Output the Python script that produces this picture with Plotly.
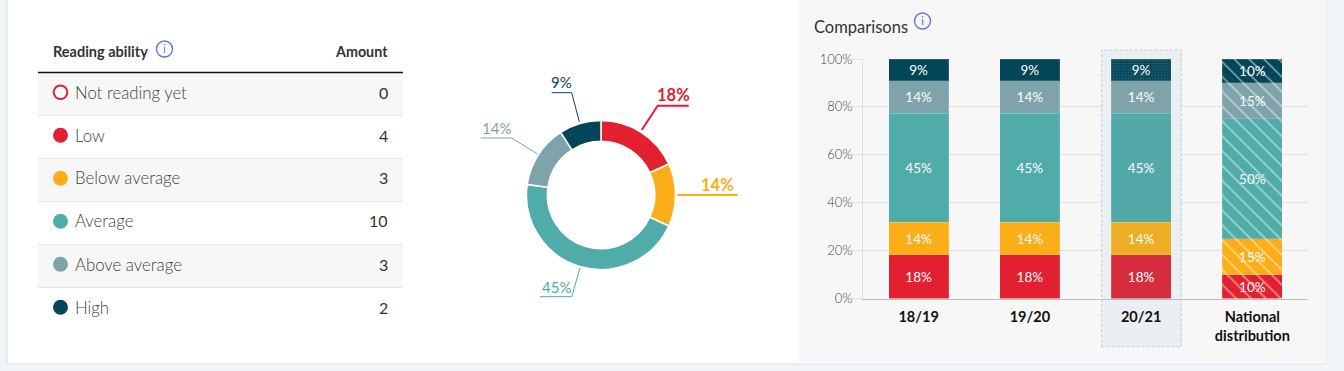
import plotly.graph_objects as go

W, H = 1344, 371
FONT = "Lato"

levels = ["Not reading yet", "Low", "Below average", "Average", "Above average", "High"]
amounts = [0, 4, 3, 10, 3, 2]
level_colors = ["#e2202f", "#e2202f", "#fbae17", "#4faca8", "#7fa3aa", "#03465a"]

pie_labels = ["Low", "Below average", "Average", "Above average", "High"]
pie_values = [4, 3, 10, 3, 2]
pie_colors = ["#e2202f", "#fbae17", "#4faca8", "#7fa3aa", "#03465a"]

years = ["18/19", "19/20", "20/21", "National<br>distribution"]
low = [18.2, 18.2, 18.2, 10]
below = [13.6, 13.6, 13.6, 15]
average = [45.5, 45.5, 45.5, 50]
above = [13.6, 13.6, 13.6, 15]
high = [9.1, 9.1, 9.1, 10]
low_txt = ["18%", "18%", "18%", "10%"]
below_txt = ["14%", "14%", "14%", "15%"]
average_txt = ["45%", "45%", "45%", "50%"]
above_txt = ["14%", "14%", "14%", "15%"]
high_txt = ["9%", "9%", "9%", "10%"]


def X(p):
    return p / W


def Y(p):
    return 1 - p / H


fig = go.Figure()

fig.add_trace(go.Pie(
    labels=pie_labels, values=pie_values, sort=False, direction="clockwise", rotation=0,
    hole=0.72, textinfo="none", showlegend=False, hoverinfo="label+percent",
    marker=dict(colors=pie_colors, line=dict(color="#ffffff", width=1.5)),
    domain=dict(x=[X(526.5), X(675.5)], y=[Y(269.5), Y(120.5)]),
))

series = [
    ("Low", low, low_txt, "#e2202f", "#d52d3d", ""),
    ("Below average", below, below_txt, "#fbae17", "#edae25", ""),
    ("Average", average, average_txt, "#4faca8", "#53a9a8", ""),
    ("Above average", above, above_txt, "#7fa3aa", "#80a2a9", ""),
    ("High", high, high_txt, "#03465a", "#0a485b", "."),
]
BAR_TEXT = dict(textposition="inside", insidetextanchor="middle", textangle=0, constraintext="none",
                insidetextfont=dict(family=FONT, size=13.5, color="#ffffff"), showlegend=False)
EDGE = dict(width=1, color="rgba(255,255,255,0.15)")
for name, vals, txt, col, muted, current_pat in series:
    # past years and the national distribution
    idx = [0, 1, 3]
    fig.add_trace(go.Bar(
        x=[years[i] for i in idx], y=[vals[i] for i in idx], text=[txt[i] for i in idx], name=name, **BAR_TEXT,
        marker=dict(color=col, line=EDGE,
                    pattern=dict(shape=["", "", "\\"], fgcolor="rgba(255,255,255,0.95)", size=10.5, solidity=0.16)),
    ))
    # the selected year
    fig.add_trace(go.Bar(
        x=[years[2]], y=[vals[2]], text=[txt[2]], name=name, **BAR_TEXT,
        marker=dict(color=muted, line=EDGE,
                    pattern=dict(shape=current_pat, fgcolor="rgba(110,190,190,0.45)", size=3, solidity=0.22)),
    ))

shapes = []
ann = []


def rect(x0, y0, x1, y1, fill, line=None, layer="below", width=1, dash=None):
    shapes.append(dict(type="rect", xref="paper", yref="paper", x0=X(x0), x1=X(x1), y0=Y(y1), y1=Y(y0),
                       fillcolor=fill, layer=layer,
                       line=dict(color=line or "rgba(0,0,0,0)", width=width if line else 0, dash=dash)))


def hline(x0, x1, y, color, width=1):
    shapes.append(dict(type="line", xref="paper", yref="paper", x0=X(x0), x1=X(x1), y0=Y(y), y1=Y(y),
                       layer="below", line=dict(color=color, width=width)))


def text(x, y, s, size, color, anchor="left", weight=None):
    f = dict(family=FONT, size=size, color=color)
    if weight:
        f["weight"] = weight
    ann.append(dict(xref="paper", yref="paper", x=X(x), y=Y(y), text=s, showarrow=False, xanchor=anchor,
                    yanchor="middle", font=f, borderpad=0, borderwidth=0))


def info(cx, cy):
    r = 8
    shapes.append(dict(type="circle", xref="paper", yref="paper", x0=X(cx - r), x1=X(cx + r), y0=Y(cy + r), y1=Y(cy - r),
                       fillcolor="rgba(0,0,0,0)", layer="above", line=dict(color="#5b78db", width=1.4)))
    text(cx, cy, "i", 12, "#5b78db", "center")


# card and panel
rect(7, -5, 1326, 364, "#ffffff", "#d6dee4")
rect(799, -5, 1326, 363.5, "#f7f7f7")

# table
text(53, 51.5, "<b>Reading ability</b>", 14.5, "#333333")
text(388, 51.5, "<b>Amount</b>", 14.3, "#333333", "right")
info(164.5, 49)
TOP, ROW = 72.5, 43
for i, (lab, amt, col) in enumerate(zip(levels, amounts, level_colors)):
    y0 = TOP + i * ROW
    if i % 2 == 0:
        rect(38, y0, 403, y0 + ROW, "#f7f7f7")
    if i:
        hline(38, 403, y0, "#e4e6e8")
    cy = y0 + 19.8
    r = 6.8 if amt == 0 else 7.5
    shapes.append(dict(type="circle", xref="paper", yref="paper", x0=X(60.5 - r), x1=X(60.5 + r), y0=Y(cy + r), y1=Y(cy - r),
                       fillcolor="#ffffff" if amt == 0 else col, layer="above",
                       line=dict(color=col, width=2 if amt == 0 else 0)))
    text(75, cy - 0.3, lab, 16.8, "#444444", weight=300)
    text(388, cy - 0.3, str(amt), 16, "#333333", "right")
hline(38, 403, 72.5, "#111111", 1.3)

# donut callouts
callouts = [
    ("18%", "#e2202f", [(641.7, 130), (657.7, 105.7), (688.7, 105.7)], 673, 95, True, 2),
    ("14%", "#fbae17", [(677, 195), (737.7, 195)], 717, 184.5, True, 2),
    ("45%", "#4faca8", [(580, 268), (571.7, 296.7), (540, 296.7)], 556, 287, False, 1),
    ("14%", "#7fa3aa", [(537.3, 154), (511.7, 138), (480.7, 138)], 496, 128, False, 1),
    ("9%", "#03465a", [(579.3, 121.7), (571.7, 92.7), (551.7, 92.7)], 561.5, 82.5, False, 1),
]
for s, col, pts, tx, ty, bold, lw in callouts:
    path = "M" + " L".join(f"{X(a):.5f},{Y(b):.5f}" for a, b in pts)
    shapes.append(dict(type="path", xref="paper", yref="paper", path=path, layer="above",
                       line=dict(color=col, width=lw)))
    text(tx, ty, f"<b>{s}</b>" if bold else s, 16.5 if bold else 15, col, "center")

# comparisons title
text(814, 27, "Comparisons", 16.5, "#333333")
info(922.5, 21)

# highlight behind the third column
HL0, HL1 = 1101.7, 1181.3
rect(HL0, 50, HL1, 346.7, "#eaeff2")
shapes.append(dict(type="rect", xref="x", yref="y", x0=2 - 0.35, x1=2 + 0.35, y0=0, y1=100,
                   fillcolor="#eaeff2", layer="between", line=dict(width=0)))
rect(HL0, 50, HL1, 346.7, "rgba(0,0,0,0)", "#b4d2d6", "above", 1, "3px,2px")

fig.update_layout(
    width=W, height=H, autosize=False, margin=dict(l=0, r=0, t=0, b=0, pad=0, autoexpand=False),
    paper_bgcolor="#f0f5fa", plot_bgcolor="rgba(0,0,0,0)",
    barmode="stack", bargap=0.46, shapes=shapes, annotations=ann,
    font=dict(family=FONT),
    xaxis=dict(domain=[X(863), X(1308)], range=[-0.5, 3.5], type="category",
               categoryorder="array", categoryarray=years, showgrid=False,
               showline=True, linecolor="#bdbdbd", linewidth=1, ticks="", zeroline=False,
               tickfont=dict(family=FONT, size=14.5, color="#111111"),
               tickmode="array", tickvals=years, ticktext=[f"<b>{y}</b>" for y in years],
               ticklabelstandoff=5, tickangle=0, anchor="y"),
    yaxis=dict(domain=[Y(298.5), Y(59)], range=[0, 100], tick0=0, dtick=20, ticksuffix="%",
               showgrid=True, gridcolor="#e0e0e0", gridwidth=1, showline=True, linecolor="#dddddd", linewidth=1,
               ticks="outside", ticklen=10, tickcolor="#e0e0e0", zeroline=False,
               tickfont=dict(family=FONT, size=13, color="#444444", weight=300), anchor="x", ticklabelstandoff=-3),
    hovermode=False,
)

fig.write_html("out.html", config={"displayModeBar": False},
               post_script="document.body.style.margin='0';document.body.style.overflow='hidden';")
